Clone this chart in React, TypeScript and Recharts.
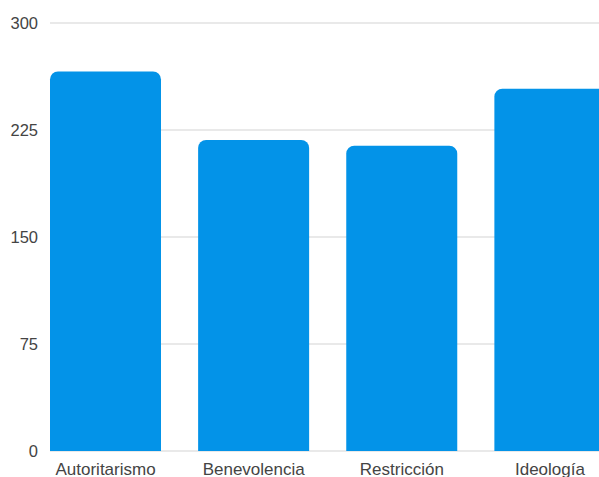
import { BarChart, Bar, XAxis, YAxis, CartesianGrid } from "recharts"

const categories = ["Autoritarismo", "Benevolencia", "Restricción", "Ideología"]
const scores = [266, 218, 214, 254]
const yTicks = [0, 75, 150, 225, 300]

const data = categories.map((name, i) => ({ name, value: scores[i] }))

const BAR_COLOR = "#0393e8"
const GRID_COLOR = "#e2e2e2"
const TEXT_COLOR = "#444444"
const FONT = "'Liberation Sans', Arial, sans-serif"

export default function App() {
  return (
    <div style={{ width: 599, height: 477, overflow: "hidden" }}>
      <style>{"body { margin: 0; }"}</style>
      <div style={{ marginLeft: 8, paddingTop: 8 }}>
        <BarChart
          width={616}
          height={469}
          data={data}
          margin={{ top: 15, right: 0, bottom: 0, left: 0 }}
          barCategoryGap={18.5}
        >
          <CartesianGrid
            vertical={false}
            stroke={GRID_COLOR}
            strokeWidth={1.5}
            x={42}
            width={600}
          />
          <XAxis
            dataKey="name"
            height={26}
            axisLine={false}
            tickLine={false}
            tickMargin={6}
            tick={{ fontSize: 17, fill: TEXT_COLOR, fontFamily: FONT }}
          />
          <YAxis
            width={23.5}
            domain={[0, 300]}
            ticks={yTicks}
            axisLine={false}
            tickLine={false}
            tick={{ fontSize: 16.5, fill: TEXT_COLOR, fontFamily: FONT, dx: 14.5 }}
          />
          <Bar
            dataKey="value"
            fill={BAR_COLOR}
            radius={[8, 8, 0, 0]}
            isAnimationActive={false}
          />
        </BarChart>
      </div>
    </div>
  )
}
